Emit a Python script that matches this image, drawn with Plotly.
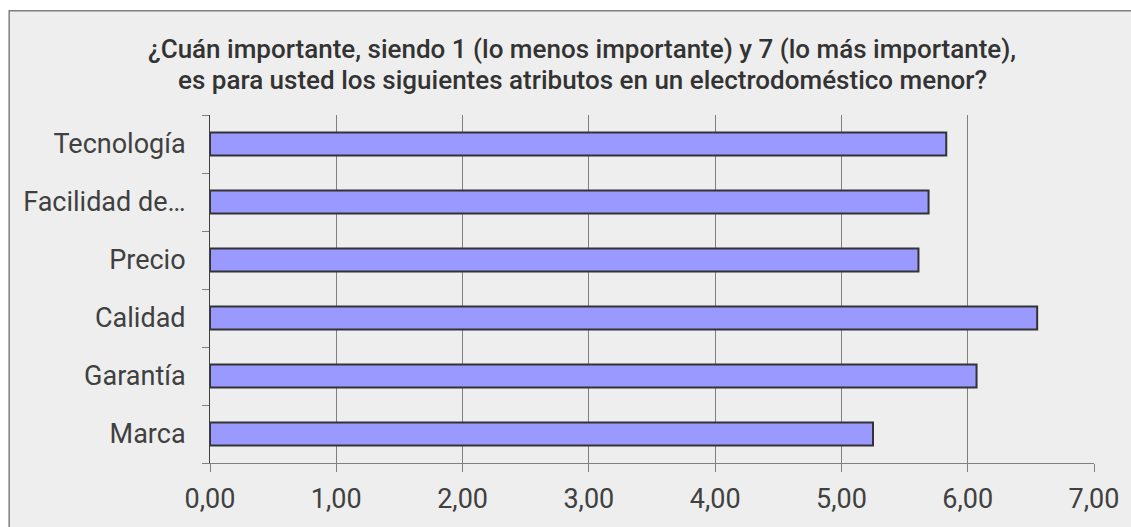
import plotly.graph_objects as go

# Atributos evaluados (de arriba hacia abajo en el gráfico)
categorias = ["Tecnología", "Facilidad de…", "Precio", "Calidad", "Garantía", "Marca"]
promedios = [5.83, 5.69, 5.61, 6.55, 6.07, 5.25]
ticks_x = [0, 1, 2, 3, 4, 5, 6, 7]

titulo_lineas = [
    "¿Cuán importante, siendo 1 (lo menos importante) y 7 (lo más importante),",
    "es para usted los siguientes atributos en un electrodoméstico menor?",
]

W, H = 1131, 527
L, R, T, B = 209.5, 1098.7, 115, 464


def px_to_paper_x(px):
    return (px - L) / (R - L)


def px_to_paper_y(py):
    return (B - py) / (B - T)


fig = go.Figure()
fig.add_trace(go.Bar(
    x=promedios[::-1],
    y=categorias[::-1],
    orientation="h",
    marker=dict(color="#9999ff", line=dict(color="#333333", width=2)),
    hoverinfo="x+y",
))

# Marco gris del área del gráfico
fig.add_shape(
    type="rect", xref="paper", yref="paper", layer="below",
    x0=px_to_paper_x(7.5), x1=px_to_paper_x(1140),
    y0=px_to_paper_y(540), y1=px_to_paper_y(10.5),
    fillcolor="#eeeeee", line=dict(color="#808080", width=1.5),
)

# Título en dos líneas con interlineado ajustado
for linea, centro_y in zip(titulo_lineas, [49, 79.5]):
    fig.add_annotation(
        text=linea, showarrow=False,
        xref="paper", yref="paper",
        x=px_to_paper_x(584), y=px_to_paper_y(centro_y),
        xanchor="center", yanchor="middle",
        font=dict(family="Roboto, Arial, sans-serif", size=26, color="#333333", weight=500),
    )

fig.update_layout(
    width=W, height=H,
    margin=dict(l=L, r=W - R, t=T, b=H - B, pad=0),
    paper_bgcolor="white",
    plot_bgcolor="rgba(0,0,0,0)",
    separators=", ",
    bargap=0.6,
    showlegend=False,
    font=dict(family="Roboto, Arial, sans-serif", color="#404040"),
    xaxis=dict(
        range=[0, 7],
        tickvals=ticks_x,
        tickformat=".2f",
        showgrid=True, gridcolor="#808080", gridwidth=1,
        zeroline=False,
        showline=True, linecolor="#808080", linewidth=1,
        ticks="outside", ticklen=8, tickcolor="#808080",
        tickfont=dict(size=27, color="#404040"),
        ticklabelstandoff=4,
    ),
    yaxis=dict(
        showgrid=False, zeroline=False,
        showline=True, linecolor="#404040", linewidth=1,
        ticks="outside", ticklen=7, tickcolor="#808080",
        tickson="boundaries",
        tickfont=dict(size=27, color="#404040"),
        ticklabelstandoff=18,
    ),
)

fig.write_html("out.html")
